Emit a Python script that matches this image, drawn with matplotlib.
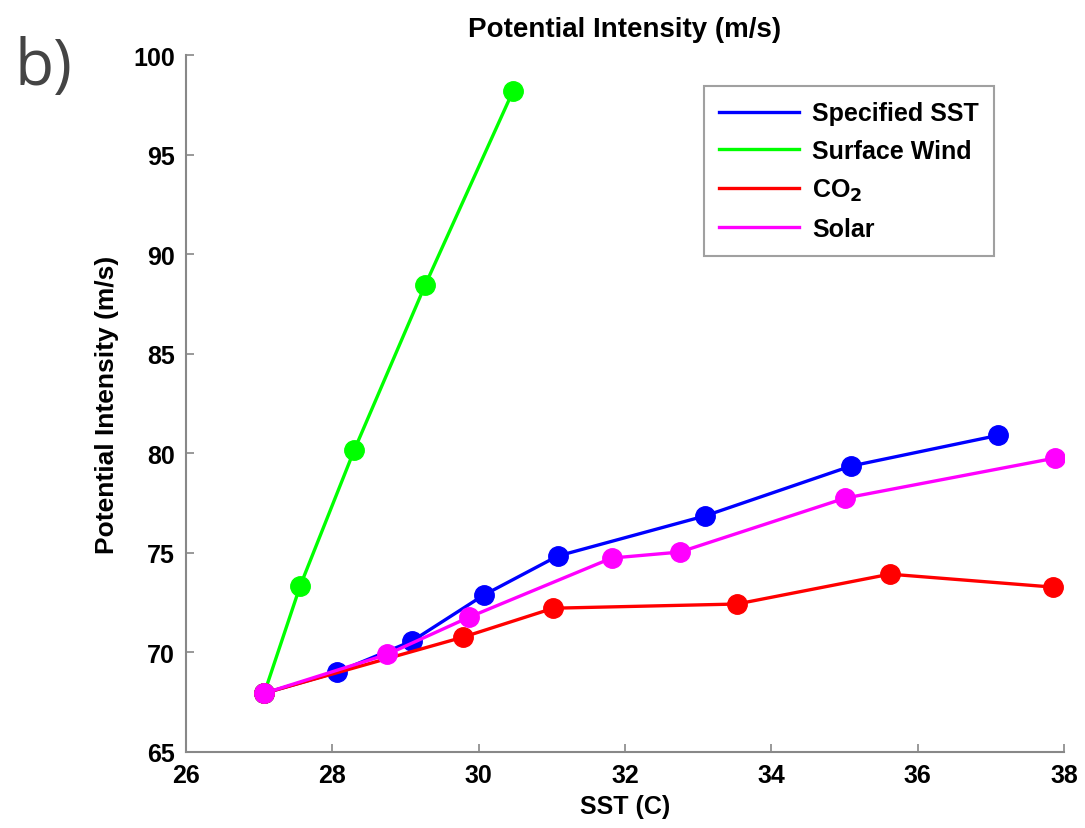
import matplotlib
matplotlib.use("Agg")
import matplotlib.pyplot as plt

plt.rcParams['font.family'] = ['Liberation Sans', 'DejaVu Sans']

# Data
sst_spec = [27.07, 28.06, 29.09, 30.07, 31.08, 33.09, 35.09, 37.10]
pi_spec = [67.95, 69.0, 70.57, 72.88, 74.84, 76.85, 79.36, 80.9]

sst_wind = [27.07, 27.56, 28.30, 29.27, 30.47]
pi_wind = [67.95, 73.33, 80.16, 88.45, 98.19]

sst_co2 = [27.07, 29.79, 31.02, 33.53, 35.62, 37.85]
pi_co2 = [67.95, 70.77, 72.22, 72.43, 73.93, 73.28]

sst_solar = [27.07, 28.75, 29.87, 31.82, 32.75, 35.01, 37.88]
pi_solar = [67.95, 69.9, 71.77, 74.74, 75.04, 77.75, 79.76]

labels = ['Specified SST', 'Surface Wind', r'CO$_\mathbf{2}$', 'Solar']
colors = ['#0000ff', '#00ff00', '#ff0000', '#ff00ff']

fig = plt.figure(figsize=(10.85, 8.29), dpi=100)
ax = fig.add_axes([0.1714, 0.0917, 0.8092, 0.8407])

series = [(sst_spec, pi_spec), (sst_wind, pi_wind), (sst_co2, pi_co2), (sst_solar, pi_solar)]
handles = []
for (x, y), c, lab in zip(series, colors, labels):
    ax.plot(x, y, color=c, lw=2.4, marker='o', markersize=14, markeredgecolor=c)
    h, = ax.plot([], [], color=c, lw=2.4, label=lab)
    handles.append(h)

ax.set_xlim(26, 38)
ax.set_ylim(65, 100)
ax.set_xticks(range(26, 39, 2))
ax.set_yticks(range(65, 101, 5))

for s in ['top', 'right']:
    ax.spines[s].set_visible(False)
for s in ['left', 'bottom']:
    ax.spines[s].set_color('#888888')
    ax.spines[s].set_linewidth(1.5)
ax.tick_params(direction='in', length=6, width=1.2, color='#888888',
               labelsize=18, pad=8)
for t in ax.get_xticklabels() + ax.get_yticklabels():
    t.set_fontweight('bold')

plt.rcParams['mathtext.default'] = 'bf'
ax.set_title('Potential Intensity (m/s)', fontsize=20, fontweight='bold', pad=14)
ax.set_xlabel('SST (C)', fontsize=18, fontweight='bold', labelpad=5)
ax.set_ylabel('Potential Intensity (m/s)', fontsize=19, fontweight='bold', labelpad=10)

leg = ax.legend(handles=handles, loc='upper right', bbox_to_anchor=(0.920, 0.955),
                borderaxespad=0, prop={'size': 18, 'weight': 'bold'}, frameon=True,
                fancybox=False, handlelength=3.2, labelspacing=0.55, borderpad=0.6,
                handletextpad=0.5)
leg.get_frame().set_edgecolor('#888888')
leg.get_frame().set_linewidth(1.5)

fig.text(0.013, 0.897, 'b)', fontsize=46, color='#444444', va='baseline',
         family=['Open Sans', 'DejaVu Sans'])

fig.savefig('out.png', dpi=100)
